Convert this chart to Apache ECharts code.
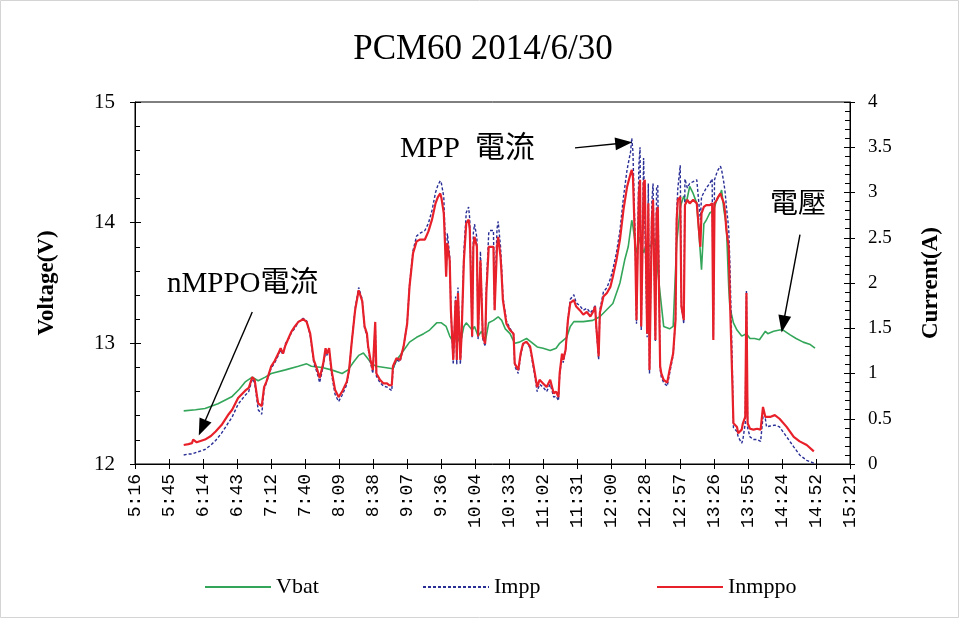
<!DOCTYPE html>
<html><head><meta charset="utf-8">
<script src="https://cdn.jsdelivr.net/npm/echarts/dist/echarts.min.js"></script>
<style>html,body{margin:0;padding:0;background:#fff}#c{width:966px;height:625px}</style>
</head><body><div id="c"></div>
<script>
// Axis tick labels (x axis runs 5:16 .. 15:21, one tick every 28.8 min)
const tickLabels = ['5:16','5:45','6:14','6:43','7:12','7:40','8:09','8:38','9:07','9:36','10:04','10:33','11:02','11:31','12:00','12:28','12:57','13:26','13:55','14:24','14:52','15:21'];
const xAxisMin = 316.8, xAxisStep = 28.8;   // minutes after midnight
const xAxisMax = xAxisMin + xAxisStep * (tickLabels.length - 1);

// Vbat (V) — time in minutes after midnight
const vbatTime = [358,368,376,387,399,405,410,416,421,427,432,444,455,462,466,475,483,492,497,502,506,510,514,517,521,528,535,538,544,549,555,561,566,572,576,580,583,586,589,592,595,597,602,604,607,610,613,616,620,624,627,630,634,638,642,648,652,657,662,668,673,676,682,685,688,696,704,710,716,721,727,731,734,737,738,741,744,747,750,752,757,759,761,764,769,772,775,778,781,783,786,789,792,795,796,798,800,803,806,809,812,813,815,817,819,820,823,826,830,834,837,841,845,850,852,857,862,865,871,876,882,888,892];
const vbatValue = [12.44,12.45,12.46,12.50,12.56,12.62,12.68,12.72,12.69,12.72,12.75,12.78,12.81,12.83,12.81,12.80,12.78,12.75,12.78,12.85,12.90,12.92,12.87,12.83,12.81,12.80,12.79,12.86,12.94,13.01,13.05,13.08,13.11,13.17,13.17,13.14,13.06,13.01,13.06,13.00,13.14,13.17,13.11,13.14,13.06,13.10,13.01,13.17,13.19,13.22,13.19,13.12,13.08,13.00,13.01,13.04,13.01,12.97,12.96,12.94,12.96,13.00,13.05,13.14,13.18,13.18,13.19,13.22,13.28,13.33,13.50,13.69,13.80,14.02,13.97,13.75,13.88,13.75,13.83,13.80,13.86,13.60,13.41,13.14,13.12,13.14,13.83,14.13,14.22,14.16,14.30,14.24,14.16,13.75,13.61,13.99,14.02,14.08,14.10,14.19,14.24,14.27,14.10,13.98,13.47,13.30,13.17,13.11,13.06,13.08,13.04,13.04,13.03,13.10,13.08,13.10,13.11,13.11,13.07,13.04,13.01,12.99,12.96];

// Currents (A) — time in minutes after midnight
const currentTime = [358,362,365,366,369,376,381,385,390,393,396,399,404,410,413,416,418,420,421,424,426,428,432,435,438,440,442,444,447,449,452,455,459,462,465,468,471,473,476,478,479,481,483,486,489,492,496,498,500,503,506,509,511,513,514,516,518,520,521,524,527,530,532,534,535,538,541,544,547,549,552,555,558,562,565,568,571,573,575,576,578,579,580,581,583,584,586,588,589,590,592,593,595,597,599,600,602,603,604,606,607,609,610,611,613,614,616,617,620,621,623,624,626,627,628,631,634,637,638,641,643,645,648,651,654,657,659,662,665,668,671,673,675,676,678,679,681,683,685,688,690,693,696,699,702,705,706,707,709,710,713,716,719,721,724,727,730,733,736,737,738,740,741,743,744,745,747,748,750,751,752,754,755,757,758,759,761,762,764,767,769,772,774,775,776,778,779,781,782,784,786,789,792,795,796,798,800,803,805,806,807,809,810,812,813,815,816,817,819,820,822,823,826,827,830,831,833,834,835,837,840,843,846,848,850,851,854,858,862,868,874,879,885,891];
const inmppoValue = [0.21,0.22,0.23,0.27,0.24,0.27,0.31,0.36,0.43,0.49,0.55,0.60,0.73,0.81,0.84,0.96,0.93,0.75,0.67,0.64,0.85,0.91,1.08,1.14,1.22,1.28,1.22,1.31,1.40,1.46,1.52,1.57,1.60,1.57,1.44,1.15,1.04,0.95,1.11,1.28,1.22,1.28,1.04,0.82,0.74,0.80,0.91,1.05,1.33,1.70,1.92,1.80,1.52,1.44,1.30,1.15,1.04,1.57,1.00,0.93,0.89,0.89,0.87,0.87,1.08,1.17,1.15,1.30,1.55,1.96,2.33,2.46,2.48,2.48,2.57,2.70,2.88,2.95,2.99,2.94,2.77,2.44,2.07,2.44,2.25,1.70,1.15,1.81,1.15,1.89,1.15,1.41,2.25,2.66,2.70,2.59,1.41,2.40,2.51,2.40,1.41,2.25,2.25,1.41,1.33,1.89,2.40,2.40,2.40,1.70,2.40,2.51,2.29,2.07,1.81,1.55,1.48,1.44,1.11,1.04,1.22,1.33,1.35,1.30,1.08,0.85,0.93,0.89,0.85,0.93,0.78,0.80,0.74,1.00,1.22,1.15,1.26,1.59,1.78,1.81,1.74,1.70,1.65,1.68,1.63,1.70,1.74,1.52,1.19,1.67,1.85,1.89,1.96,2.07,2.25,2.48,2.81,3.06,3.21,3.25,3.17,2.33,1.59,2.99,3.14,1.52,3.10,3.14,1.44,2.88,1.04,2.70,2.92,1.37,2.77,2.84,1.08,1.00,0.93,0.90,1.04,1.22,1.59,2.70,2.92,2.95,1.74,1.59,2.86,2.92,2.88,2.92,2.88,2.40,2.77,2.84,2.86,2.86,2.88,1.37,2.88,2.92,2.95,2.99,2.95,2.88,2.77,2.59,2.40,1.85,0.93,0.45,0.41,0.34,0.38,0.45,0.52,1.89,0.45,0.39,0.38,0.39,0.38,0.63,0.52,0.50,0.52,0.54,0.50,0.41,0.30,0.25,0.21,0.14];
const imppValue = [0.10,0.11,0.11,0.12,0.13,0.16,0.21,0.26,0.34,0.40,0.46,0.52,0.66,0.76,0.80,0.94,0.90,0.70,0.60,0.55,0.82,0.90,1.06,1.12,1.20,1.26,1.21,1.33,1.39,1.45,1.50,1.57,1.61,1.58,1.42,1.12,1.00,0.90,1.08,1.25,1.20,1.26,1.00,0.77,0.69,0.76,0.88,1.04,1.33,1.72,1.95,1.82,1.50,1.42,1.28,1.12,1.00,1.55,0.97,0.90,0.86,0.85,0.83,0.81,1.05,1.15,1.13,1.30,1.55,1.97,2.36,2.52,2.55,2.58,2.66,2.80,3.00,3.08,3.13,3.10,2.95,2.55,2.10,2.55,2.30,1.70,1.10,1.85,1.10,1.95,1.10,1.40,2.35,2.78,2.84,2.70,1.40,2.55,2.65,2.50,1.38,2.35,2.35,1.38,1.30,1.95,2.55,2.58,2.58,1.70,2.60,2.68,2.40,2.15,1.85,1.58,1.50,1.43,1.08,1.00,1.20,1.32,1.35,1.28,1.05,0.80,0.88,0.85,0.80,0.88,0.74,0.75,0.70,0.98,1.20,1.12,1.25,1.60,1.82,1.87,1.78,1.75,1.70,1.72,1.67,1.72,1.76,1.50,1.15,1.70,1.90,1.95,2.05,2.15,2.33,2.58,2.95,3.25,3.45,3.60,3.45,2.40,1.55,3.30,3.50,1.48,3.38,3.40,1.40,3.10,1.00,2.90,3.10,1.35,3.05,3.08,1.05,0.96,0.90,0.86,1.00,1.20,1.60,2.80,3.05,3.30,1.75,1.55,3.15,3.05,3.10,3.12,3.14,2.70,2.95,3.00,3.05,3.10,3.15,1.40,3.14,3.22,3.25,3.29,3.25,3.10,3.00,2.85,2.60,2.22,1.11,0.40,0.36,0.30,0.23,0.27,0.45,1.92,0.40,0.30,0.27,0.27,0.25,0.52,0.50,0.41,0.42,0.43,0.41,0.30,0.19,0.10,0.04,0.01];

// Annotations: text and arrow (start -> tip) in [minutes, volts]
const annotations = [
  {text: 'nMPPO電流', from: [416, 13.26], to: [373.6, 12.30]},
  {text: 'MPP  電流', from: [689, 14.62], to: [730.2, 14.66]},
  {text: '電壓', from: [879.3, 13.90], to: [865.1, 13.16]}
];

const SERIF = '"Liberation Serif","Times New Roman","Noto Sans CJK TC",serif';
const chart = echarts.init(document.getElementById('c'), null, {renderer: 'canvas'});

const pairs = (t, v) => t.map((x, i) => [x, v[i]]);
const xFmt = v => { const i = Math.round((v - xAxisMin) / xAxisStep); return tickLabels[i] || ''; };

const baseX = {type: 'value', min: xAxisMin, max: xAxisMax, interval: xAxisStep, splitLine: {show: false}};
const blackLine = {color: '#000', width: 1};
const legendBase = {top: 571, itemWidth: 66, itemHeight: 14, itemStyle: {opacity: 0},
  textStyle: {fontFamily: SERIF, fontSize: 22, color: '#000'}};

chart.setOption({
  animation: false,
  backgroundColor: '#fff',
  title: {text: 'PCM60 2014/6/30', left: 'center', top: 27,
    textStyle: {fontFamily: SERIF, fontSize: 35, fontWeight: 'normal', color: '#000'}},
  grid: {left: 135, right: 116, top: 102, bottom: 161, show: true, borderColor: '#000', borderWidth: 1, containLabel: false, outerBoundsMode: 'none'},
  legend: [
    Object.assign({data: ['Vbat'], left: 199}, legendBase),
    Object.assign({data: ['Impp'], left: 417}, legendBase),
    Object.assign({data: ['Inmppo'], left: 651}, legendBase)
  ],
  xAxis: [
    Object.assign({}, baseX, {position: 'bottom',
      axisLine: {show: true, lineStyle: blackLine},
      axisTick: {show: true, inside: false, length: 5, lineStyle: blackLine},
      axisLabel: {rotate: 90, margin: 10, formatter: xFmt, fontFamily: '"Liberation Mono",monospace', fontSize: 18, color: '#000', showMinLabel: true, showMaxLabel: true}}),
    Object.assign({}, baseX, {position: 'bottom',
      axisLine: {show: false}, axisLabel: {show: false},
      axisTick: {show: true, inside: true, length: 5, lineStyle: blackLine}})
  ],
  yAxis: [
    {type: 'value', position: 'left', min: 12, max: 15, interval: 1,
      name: 'Voltage(V)', nameLocation: 'middle', nameRotate: 90, nameGap: 76,
      nameTextStyle: {fontFamily: SERIF, fontSize: 23, fontWeight: 'bold', color: '#000'},
      axisLine: {show: true, lineStyle: blackLine}, splitLine: {show: false},
      axisTick: {show: true, inside: false, length: 5, lineStyle: blackLine},
      axisLabel: {margin: 20, fontFamily: SERIF, fontSize: 21, color: '#000'}},
    {type: 'value', position: 'right', min: 0, max: 4, interval: 0.5,
      name: 'Current(A)', nameLocation: 'middle', nameRotate: 90, nameGap: 70,
      nameTextStyle: {fontFamily: SERIF, fontSize: 23, fontWeight: 'bold', color: '#000'},
      axisLine: {show: true, lineStyle: blackLine}, splitLine: {show: false},
      axisTick: {show: true, inside: false, length: 5, lineStyle: blackLine},
      axisLabel: {margin: 18, fontFamily: SERIF, fontSize: 19, color: '#000'}},
    {type: 'value', position: 'left', min: 12, max: 15, interval: 1,
      axisLine: {show: false}, axisLabel: {show: false}, splitLine: {show: false},
      axisTick: {show: true, inside: true, length: 6, lineStyle: blackLine},
      minorTick: {show: true, splitNumber: 5, length: 5, lineStyle: blackLine}, minorSplitLine: {show: false}},
    {type: 'value', position: 'right', min: 0, max: 4, interval: 0.5,
      axisLine: {show: false}, axisLabel: {show: false}, splitLine: {show: false},
      axisTick: {show: true, inside: true, length: 6, lineStyle: blackLine},
      minorTick: {show: true, splitNumber: 5, length: 5, lineStyle: blackLine}, minorSplitLine: {show: false}}
  ],
  series: [
    {name: 'Vbat', type: 'line', xAxisIndex: 0, yAxisIndex: 0, data: pairs(vbatTime, vbatValue),
      symbol: 'none', showSymbol: false, color: '#33a65a', lineStyle: {color: '#33a65a', width: 1.6},
      markLine: {silent: true, symbol: ['none', 'triangle'], symbolSize: [13, 17], animation: false,
        lineStyle: {color: '#000', width: 1.4, type: 'solid'}, label: {show: false},
        data: annotations.map(a => [{coord: a.from}, {coord: a.to}])}},
    {name: 'Impp', type: 'line', xAxisIndex: 0, yAxisIndex: 1, data: pairs(currentTime, imppValue),
      symbol: 'none', showSymbol: false, color: '#2a2f96', lineStyle: {color: '#2a2f96', width: 1.4, type: [3, 2]}},
    {name: 'Inmppo', type: 'line', xAxisIndex: 0, yAxisIndex: 1, data: pairs(currentTime, inmppoValue),
      symbol: 'none', showSymbol: false, color: '#e8202a', lineStyle: {color: '#e8202a', width: 2.2}}
  ],
  graphic: [
    {type: 'rect', silent: true, shape: {x: 0.5, y: 0.5, width: 958, height: 617}, style: {fill: 'none', stroke: '#d4d4d4', lineWidth: 1}},
    {type: 'text', x: 167, y: 284, style: {text: annotations[0].text, font: '29px ' + SERIF, fill: '#000', verticalAlign: 'middle'}},
    {type: 'text', x: 400, y: 149, style: {text: annotations[1].text, font: '30px ' + SERIF, fill: '#000', verticalAlign: 'middle'}},
    {type: 'text', x: 770, y: 206, style: {text: annotations[2].text, font: '28px ' + SERIF, fill: '#000', verticalAlign: 'middle'}}
  ]
});
</script></body></html>
